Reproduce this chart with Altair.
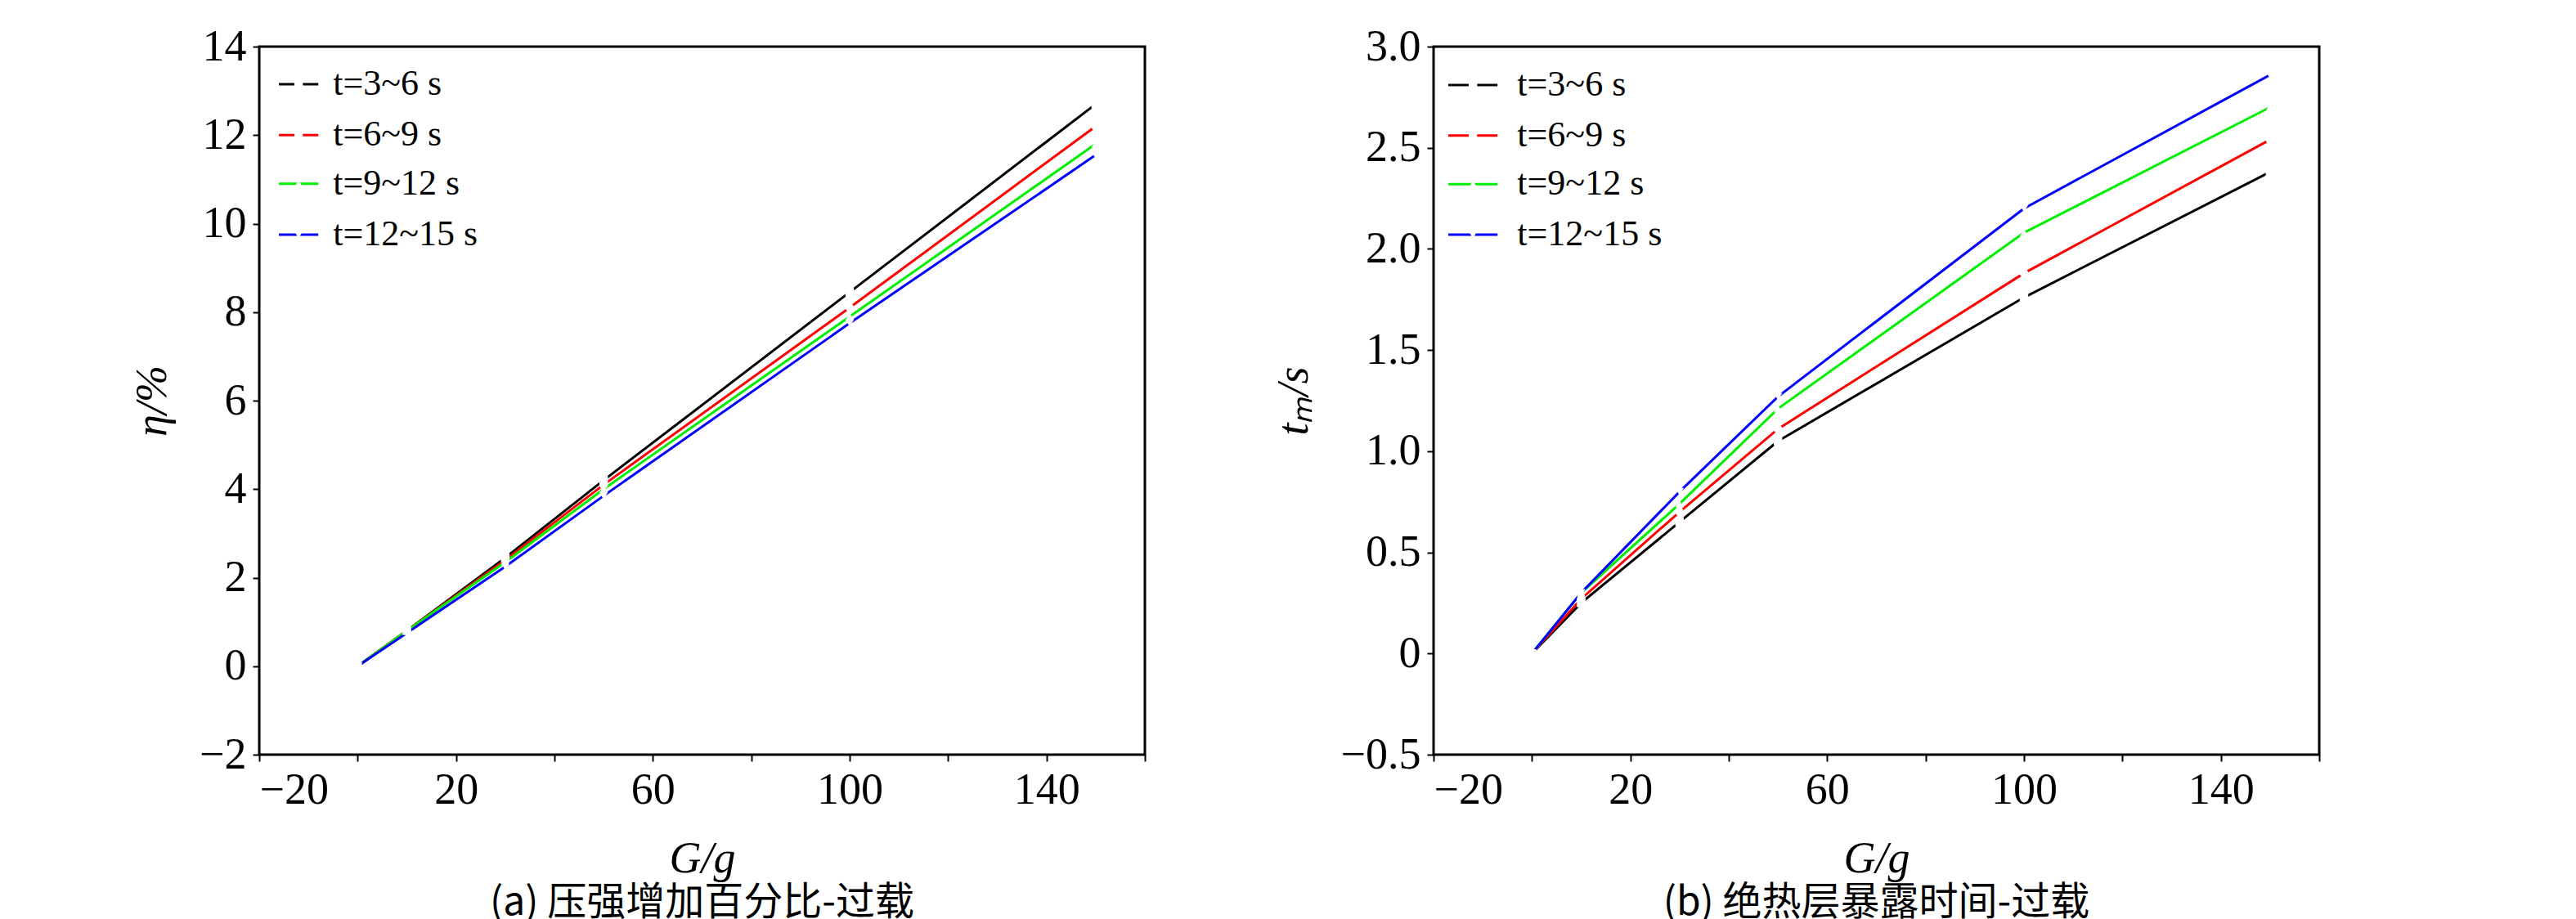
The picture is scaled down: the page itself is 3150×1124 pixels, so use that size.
import altair as alt
import pandas as pd

G = [0, 10, 30, 50, 100, 150]
series = ["t=3~6 s", "t=6~9 s", "t=9~12 s", "t=12~15 s"]
colors = ["#000000", "#ff0000", "#00ee00", "#0000ff"]
shapes = ["square", "circle", "triangle-up", "triangle-down"]

eta = [
    [0, 0.80, 2.45, 4.20, 8.45, 12.70],
    [0, 0.80, 2.40, 4.10, 8.10, 12.20],
    [0, 0.80, 2.35, 4.00, 7.90, 11.80],
    [0, 0.75, 2.25, 3.85, 7.75, 11.55],
]
tm = [
    [0, 0.25, 0.65, 1.05, 1.76, 2.38],
    [0, 0.27, 0.70, 1.11, 1.88, 2.54],
    [0, 0.30, 0.74, 1.21, 2.08, 2.70],
    [0, 0.30, 0.80, 1.27, 2.20, 2.86],
]

FONT = "Liberation Serif"
FS = 54


def panel(vals, ydom, ystep, ytitle, caption, leg_y, leg_x, fmt):
    rows = []
    for s, v in zip(series, vals):
        for g, y in zip(G, v):
            rows.append({"G": g, "y": y, "s": s})
    df = pd.DataFrame(rows)
    leg = []
    for s, ly in zip(series, leg_y):
        leg.append({"x": leg_x[0], "x2": leg_x[1], "xm": (leg_x[0] + leg_x[1]) / 2,
                    "xt": leg_x[2], "y": ly, "s": s})
    ldf = pd.DataFrame(leg)
    xs = alt.Scale(domain=[-20, 160], nice=False)
    ys = alt.Scale(domain=ydom, nice=False)
    col = alt.Color("s:N", scale=alt.Scale(domain=series, range=colors), legend=None)
    shp = alt.Shape("s:N", scale=alt.Scale(domain=series, range=shapes), legend=None)
    yvals = []
    v = ydom[0]
    while v <= ydom[1] + 1e-9:
        yvals.append(round(v, 2))
        v += ystep
    yax = alt.Axis(title=ytitle, values=yvals, tickSize=8, grid=False, labelPadding=8,
                   titlePadding=30, format=fmt,
                   labelExpr="datum.value == 0 ? '0' : replace(datum.label, '-', '−')")
    xax = alt.Axis(title="G/g", values=list(range(-20, 161, 20)), tickSize=8,
                   titleFontStyle="italic", grid=False, labelPadding=8, titlePadding=30,
                   labelExpr="replace(datum.label, '-', '−')")
    lines = alt.Chart(df).mark_line(strokeWidth=3).encode(
        x=alt.X("G:Q", scale=xs, axis=xax), y=alt.Y("y:Q", scale=ys, axis=yax), color=col)
    pts = alt.Chart(df).mark_point(filled=True, fill="white", size=110, strokeWidth=1.5, opacity=1).encode(
        x="G:Q", y="y:Q", color=col, shape=shp)
    ll = alt.Chart(ldf).mark_rule(strokeWidth=3).encode(x="x:Q", x2="x2:Q", y="y:Q", color=col)
    lp = alt.Chart(ldf).mark_point(filled=True, fill="white", size=110, strokeWidth=1.5, opacity=1).encode(
        x="xm:Q", y="y:Q", color=col, shape=shp)
    lt = alt.Chart(ldf).mark_text(align="left", baseline="middle", font=FONT, fontSize=44,
                                  color="black").encode(x="xt:Q", y="y:Q", text="s:N")
    return alt.layer(lines, pts, ll, lp, lt).properties(
        width=1083, height=866,
        title=alt.TitleParams(caption, orient="bottom", font="Noto Sans CJK SC", fontSize=48,
                              fontWeight="normal", offset=4, color="black"))


a = panel(eta, [-2, 14], 2, "η/%", "(a) 压强增加百分比-过载", [13.15, 12.0, 10.9, 9.75], [-16, -8, -5], "d")
b = panel(tm, [-0.5, 3.0], 0.5, "tₘ/s", "(b) 绝热层暴露时间-过载", [2.81, 2.56, 2.32, 2.07], [-17, -7, -3], ".1f")

chart = alt.hconcat(a, b, spacing=150).properties(
    padding={"left": 150, "top": 20, "right": 5, "bottom": 5}
).configure_view(stroke="black", strokeWidth=3).configure_axis(
    labelFont=FONT, titleFont=FONT, labelFontSize=FS, titleFontSize=FS, labelColor="black",
    titleColor="black", domain=False, tickColor="black", tickWidth=2, titleFontWeight="normal"
).configure_axisY(titleFontStyle="italic")

chart.save("out.html", embed_options={"renderer": "svg", "actions": False})
